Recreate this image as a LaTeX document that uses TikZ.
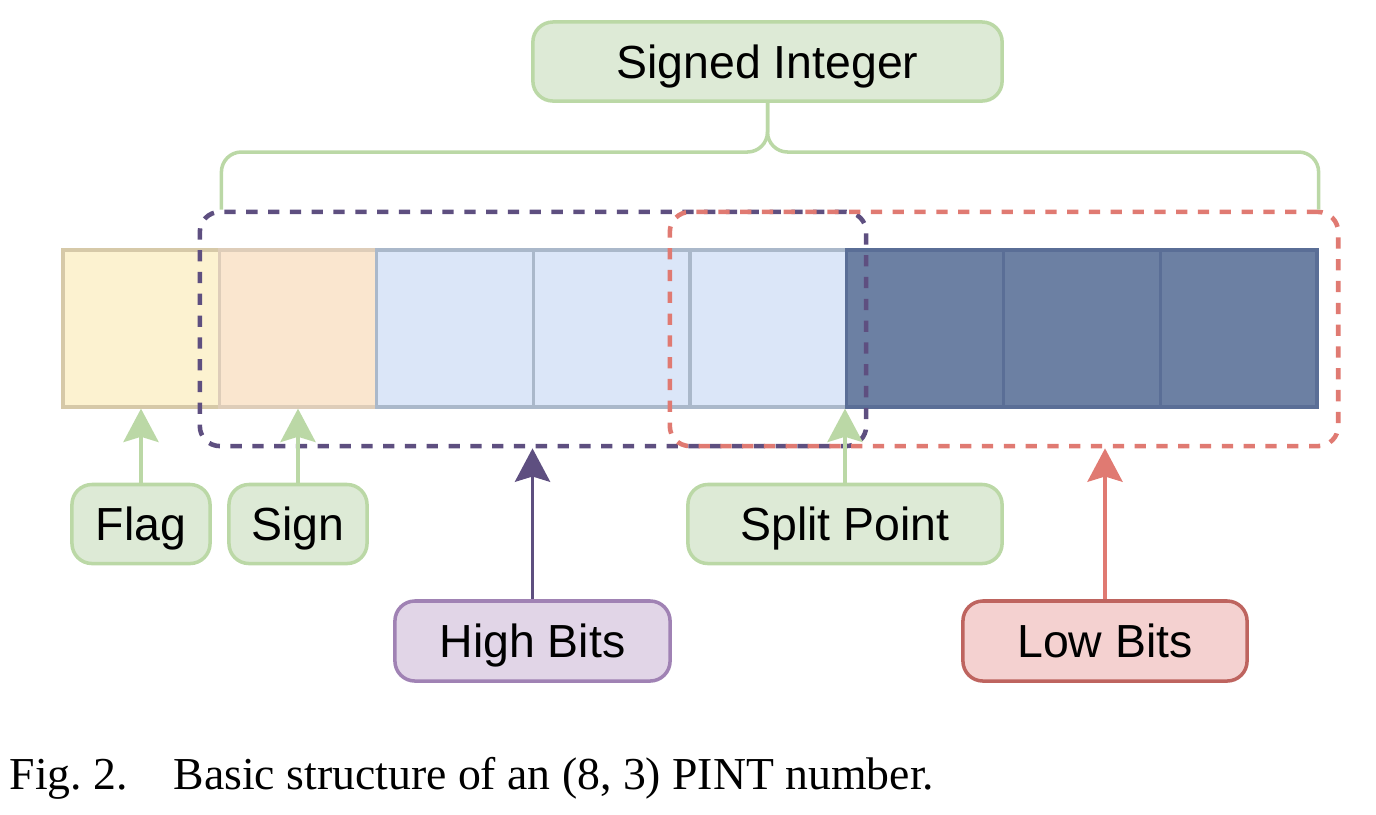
\documentclass[tikz,border=0pt]{standalone}
\usepackage{fontspec}
\setmainfont{Liberation Sans}
\newfontfamily\capfont{Liberation Serif}
\usetikzlibrary{arrows.meta}

\definecolor{flagfill}{RGB}{252,242,208}
\definecolor{flagline}{RGB}{214,201,168}
\definecolor{signfill}{RGB}{250,230,207}
\definecolor{signline}{RGB}{222,205,185}
\definecolor{bluefill}{RGB}{219,230,248}
\definecolor{blueline}{RGB}{170,184,202}
\definecolor{darkfill}{RGB}{108,128,163}
\definecolor{darkline}{RGB}{90,110,150}
\definecolor{greenfill}{RGB}{221,234,214}
\definecolor{greenline}{RGB}{187,216,166}
\definecolor{purplefill}{RGB}{225,213,231}
\definecolor{purpleline}{RGB}{160,130,180}
\definecolor{redfill}{RGB}{244,209,208}
\definecolor{redline}{RGB}{190,100,95}
\definecolor{hiline}{RGB}{94,79,128}
\definecolor{loline}{RGB}{224,122,114}

\begin{document}
\begin{tikzpicture}[x = 0.01cm, y = -0.01cm, line width = 1pt,
                        cell/.style = {draw, minimum width = 1.5675cm, minimum height = 1.57cm, line width = 0.9pt, inner sep = 0pt},
                        group/.style = {draw, dash pattern = on 3.2pt off 3pt, line width = 1.3pt, rounded corners = 0.2cm, minimum height = 2.34cm},
                        tag/.style = {draw, rounded corners = 0.2cm, minimum height = 0.79cm, line width = 1pt, text height = 9.6pt, text depth = 0pt, font = \fontsize{13.2}{16}\selectfont},
                        pointer/.style = {-{Stealth[length = 9.5pt, width = 10pt, inset = 1.5pt]}, line width = 1pt}]
      \useasboundingbox (0, 0) rectangle (1376, 814);
      % the eight cells
      \node [cell, fill = flagfill, draw = flagline] (c1) at (141.4, 328.5){};
      \node [cell, fill = signfill, draw = signline] (c2) at (298.1, 328.5){};
      \node [cell, fill = bluefill, draw = blueline] (c3) at (454.9, 328.5){};
      \node [cell, fill = bluefill, draw = blueline] (c4) at (611.6, 328.5){};
      \node [cell, fill = bluefill, draw = blueline] (c5) at (768.4, 328.5){};
      \node [cell, fill = darkfill, draw = darkline] (c6) at (925.1, 328.5){};
      \node [cell, fill = darkfill, draw = darkline] (c7) at (1081.9, 328.5){};
      \node [cell, fill = darkfill, draw = darkline] (c8) at (1238.6, 328.5){};
      % dashed groups
      \node [group, draw = hiline, minimum width = 6.66cm] (hi) at (533, 329){};
      \node [group, draw = loline, minimum width = 6.68cm] (lo) at (1004, 329){};
      % labels
      \node [tag, fill = greenfill, draw = greenline, minimum width = 4.69cm] (int) at (767.5, 61.5){Signed Integer};
      \node [tag, fill = greenfill, draw = greenline, minimum width = 1.38cm] (flag) at (141, 524){Flag};
      \node [tag, fill = greenfill, draw = greenline, minimum width = 1.38cm] (sign) at (298, 524){Sign};
      \node [tag, fill = greenfill, draw = greenline, minimum width = 3.14cm] (split) at (845, 524){Split Point};
      \node [tag, fill = purplefill, draw = purpleline, minimum width = 2.75cm, minimum height = 0.8cm] (high) at (532.5, 641){High Bits};
      \node [tag, fill = redfill, draw = redline, minimum width = 2.84cm, minimum height = 0.8cm] (low) at (1105, 641){Low Bits};
      % brace over the signed integer
      \draw [greenline, rounded corners = 0.2cm] (int.south) -- (int.south |- 0, 152) -| (c1.north east |- hi.north);
      \draw [greenline, rounded corners = 0.2cm] (int.south) -- (int.south |- 0, 152) -| (c8.north east |- lo.north);
      % arrows
      \draw [pointer, greenline] (flag.north) -- (flag.north |- c1.south);
      \draw [pointer, greenline] (sign.north) -- (sign.north |- c2.south);
      \draw [pointer, greenline] (split.north) -- (split.north |- c5.south);
      \draw [pointer, hiline] (high.north) -- (high.north |- hi.south);
      \draw [pointer, loline] (low.north) -- (low.north |- lo.south);
      \node [anchor = west, inner sep = 0pt, font = \capfont\fontsize{13}{16}\selectfont] (cap) at (8, 778){Fig.~2.\quad Basic structure of an (8, 3) PINT number.};
    \end{tikzpicture}
\end{document}
